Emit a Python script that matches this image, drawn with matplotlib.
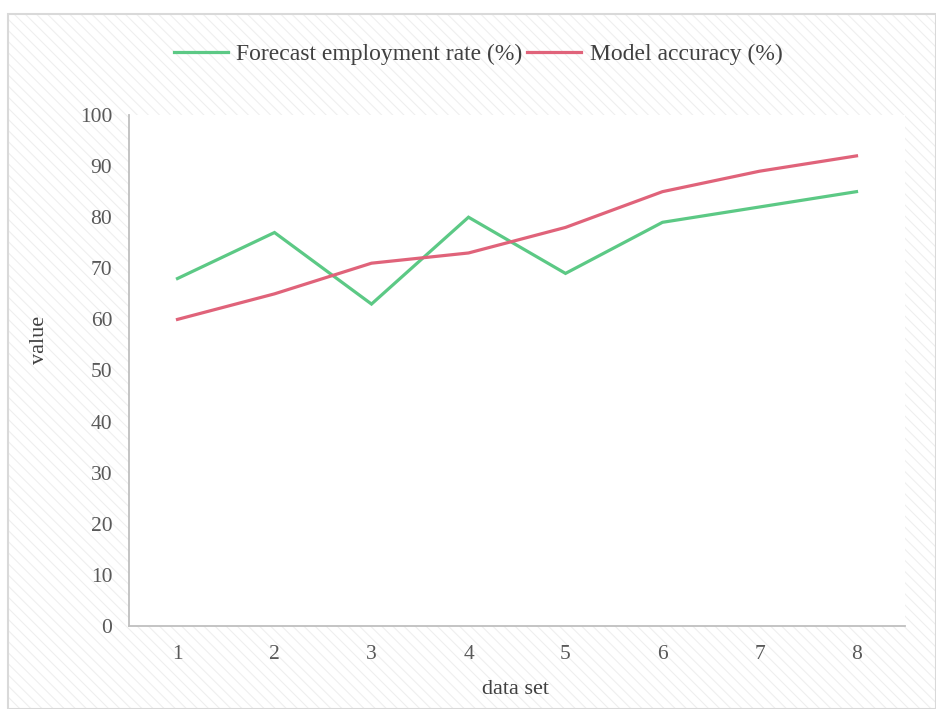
import matplotlib
matplotlib.use("Agg")
import matplotlib.pyplot as plt
from matplotlib.patches import Rectangle

data_sets = [1, 2, 3, 4, 5, 6, 7, 8]
forecast_employment = [68, 77, 63, 80, 69, 79, 82, 85]
model_accuracy = [60, 65, 71, 73, 78, 85, 89, 92]
y_ticks = [0, 10, 20, 30, 40, 50, 60, 70, 80, 90, 100]

plt.rcParams['font.family'] = ['Liberation Serif', 'DejaVu Serif']
plt.rcParams['hatch.linewidth'] = 0.8
plt.rcParams['hatch.color'] = '#efefef'

W, H = 936, 709
fig = plt.figure(figsize=(W / 100, H / 100), dpi=100, facecolor='white')

# hatched outer frame
bg = Rectangle((8 / W, 0), 1 - 8 / W, 1 - 14 / H, transform=fig.transFigure,
               facecolor='white', edgecolor='#efefef', hatch='\\\\\\', lw=0, zorder=-3)
fig.patches.append(bg)
border = Rectangle((8 / W, 0), 1 - 8 / W, 1 - 14 / H, transform=fig.transFigure,
                   facecolor='none', edgecolor='#d9d9d9', lw=1.5, zorder=-2)
fig.patches.append(border)

left, right, top, bottom = 129, 905, 115, 626
ax = fig.add_axes([left / W, 1 - bottom / H, (right - left) / W, (bottom - top) / H])
ax.set_zorder(1)
ax.set_facecolor('white')

green = '#5cc985'
red = '#e0637a'
ax.plot(data_sets, forecast_employment, color=green, lw=2.3, label='Forecast employment rate (%)',
        solid_joinstyle='miter')
ax.plot(data_sets, model_accuracy, color=red, lw=2.3, label='Model accuracy (%)',
        solid_joinstyle='miter')

ax.set_xlim(0.5, 8.5)
ax.set_ylim(0, 100)
ax.set_xticks(data_sets)
ax.set_yticks(y_ticks)
ax.tick_params(length=0, labelsize=15.5, colors='#595959')
ax.tick_params(axis='x', pad=14)
ax.tick_params(axis='y', pad=12)
for s in ['top', 'right']:
    ax.spines[s].set_visible(False)
for s in ['left', 'bottom']:
    ax.spines[s].set_color('#bfbfbf')
    ax.spines[s].set_linewidth(1.3)

fig.text(40 / W, 1 - 340 / H, 'value', rotation=90, ha='center', va='center',
         fontsize=16, color='#404040')
fig.text(515 / W, 1 - 689 / H, 'data set', ha='center', va='center',
         fontsize=16, color='#404040')

leg = fig.legend(loc='center', bbox_to_anchor=(478 / W, 1 - 54 / H), ncol=2, frameon=False,
                 fontsize=17, handlelength=2.3, handletextpad=0.35, columnspacing=0.2,
                 labelcolor='#404040')

fig.savefig('out.png', dpi=100, facecolor='white')
